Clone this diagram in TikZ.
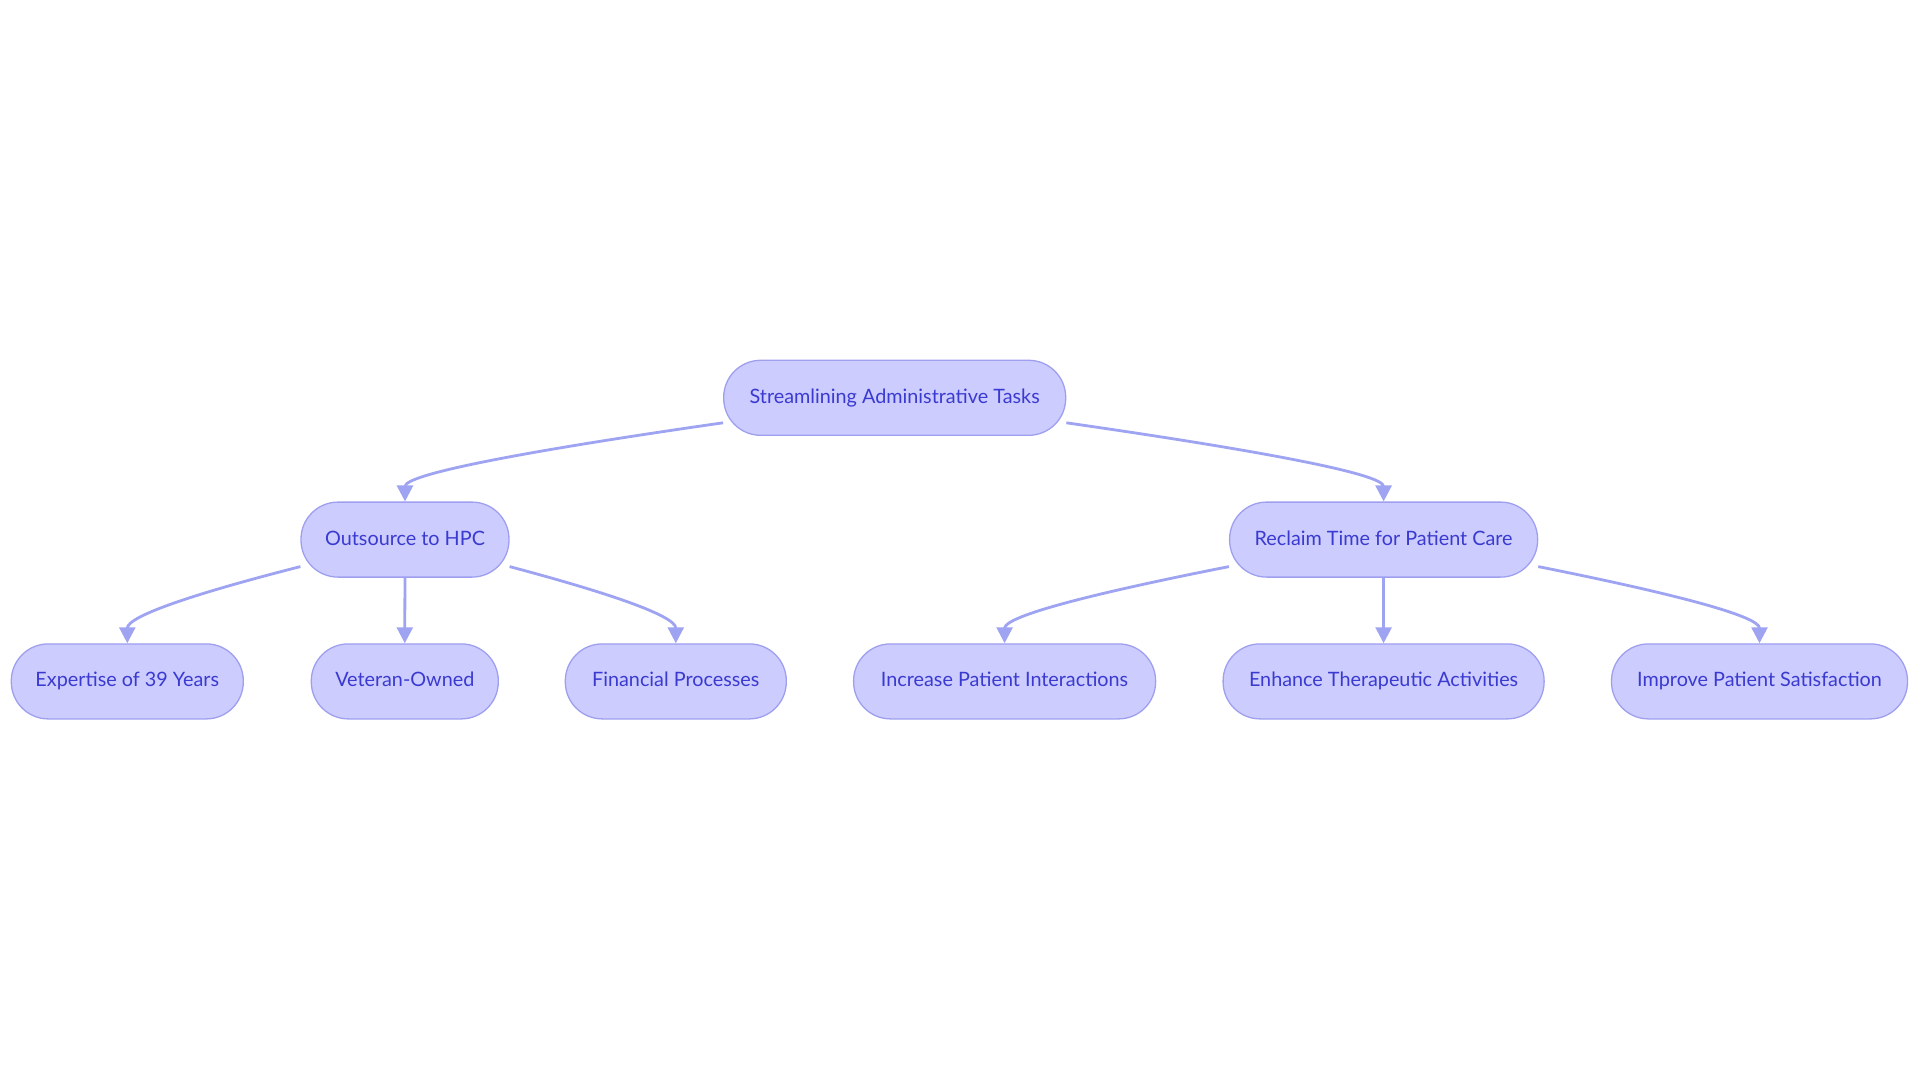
\documentclass[tikz,border=0pt]{standalone}
\usepackage{fontspec}
\setmainfont{Lato}
\usetikzlibrary{arrows.meta,calc}
\definecolor{nodefill}{HTML}{CCCCFF}
\definecolor{nodeline}{HTML}{9F9FF0}
\definecolor{edgecol}{HTML}{9EA3F2}
\definecolor{txt}{HTML}{3A3AD0}
\begin{document}
\begin{tikzpicture}[x=1pt,y=1pt,
  box/.style={draw=nodeline, line width=1.3pt, fill=nodefill, rounded corners=37pt,
    minimum height=75pt, text=txt, font=\fontsize{19.8}{22}\selectfont, inner sep=0pt,
    text height=14pt, text depth=3pt},
  tree edge/.style={to path={let \p1=(\tikztostart), \p2=(\tikztotarget) in
    .. controls ({\x1+0.6*(\x2-\x1)},{\y1+0.43*(\y2+15pt-\y1)}) and (\x2,{\y2+15pt-0.2*(\y2+15pt-\y1)}) ..
    (\x2,{\y2+15pt}) -- (\tikztotarget) \tikztonodes}},
  edge/.style={draw=edgecol, line width=2.8pt, -{Triangle[length=16pt,width=16pt]}, tree edge}]
\useasboundingbox (0,0) rectangle (1920,-1083);
\fill[white] (0,0) rectangle (1920,-1083);
% nodes
\node[box, minimum width=342pt] (top) at (894.7,-397.8) {Streamlining Administrative Tasks};
\node[box, minimum width=208pt] (out) at (405,-539.6) {Outsource to HPC};
\node[box, minimum width=308pt] (rec) at (1383.6,-539.6) {Reclaim Time for Patient Care};
\node[box, minimum width=232pt] (exp) at (127.3,-681.4) {Expertise of 39 Years};
\node[box, minimum width=187pt] (vet) at (404.8,-681.4) {Veteran-Owned};
\node[box, minimum width=221pt] (fin) at (675.8,-681.4) {Financial Processes};
\node[box, minimum width=302pt] (inc) at (1004.6,-681.4) {Increase Patient Interactions};
\node[box, minimum width=321pt] (enh) at (1383.6,-681.4) {Enhance Therapeutic Activities};
\node[box, minimum width=296pt] (imp) at (1759.5,-681.4) {Improve Patient Satisfaction};
% edges
\draw[edge] ([yshift=-25pt]top.west) to (out.north);
\draw[edge] ([yshift=-25pt]top.east) to (rec.north);
\draw[edge] ([yshift=-27pt]out.west) to (exp.north);
\draw[edge] (out.south) to (vet.north);
\draw[edge] ([yshift=-27pt]out.east) to (fin.north);
\draw[edge] ([yshift=-27pt]rec.west) to (inc.north);
\draw[edge] (rec.south) to (enh.north);
\draw[edge] ([yshift=-27pt]rec.east) to (imp.north);
\end{tikzpicture}
\end{document}
